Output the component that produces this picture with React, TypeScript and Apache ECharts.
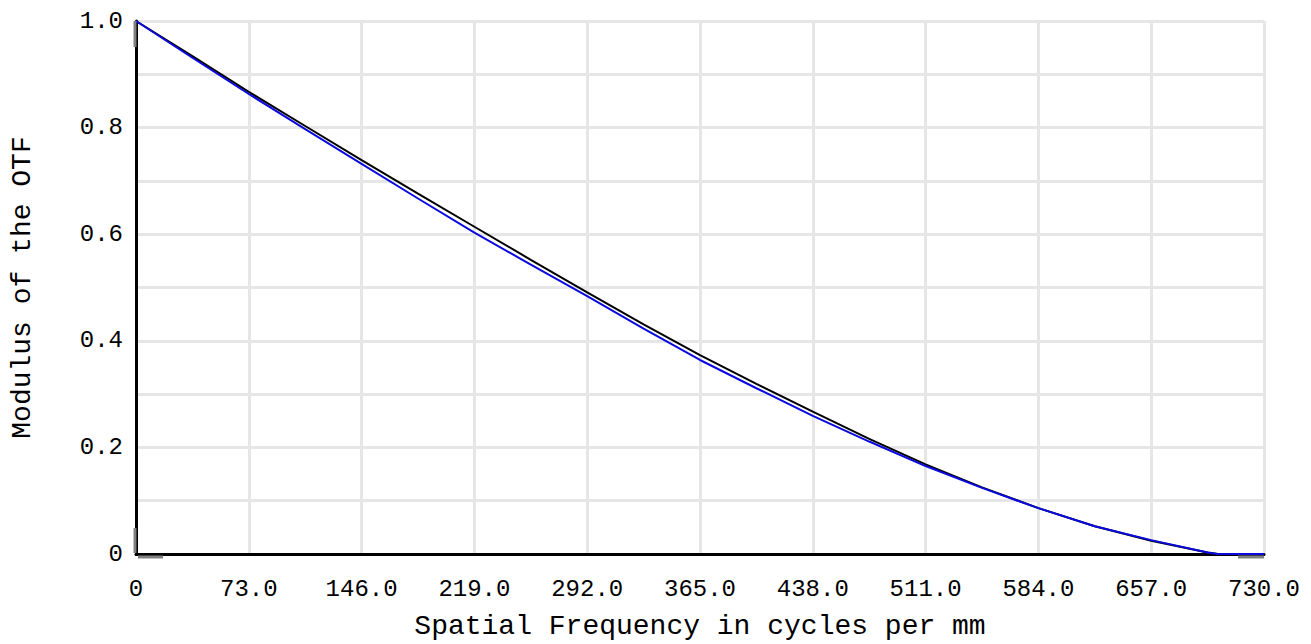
import React, { useEffect, useRef } from "react";
import * as echarts from "echarts";

const freq = [0, 36.5, 73, 109.5, 146, 182.5, 219, 255.5, 292, 328.5, 365, 401.5, 438, 474.5, 511, 547.5, 584, 620.5, 657, 693.5, 700, 730];
const blackMTF = [1.0, 0.934, 0.867, 0.803, 0.739, 0.676, 0.614, 0.552, 0.491, 0.431, 0.373, 0.319, 0.267, 0.216, 0.168, 0.125, 0.086, 0.052, 0.025, 0.003, 0, null];
const blueMTF = [1.0, 0.931, 0.863, 0.797, 0.732, 0.667, 0.603, 0.543, 0.484, 0.423, 0.364, 0.311, 0.259, 0.211, 0.165, 0.124, 0.086, 0.052, 0.026, 0.003, 0, 0];

const xTitle = "Spatial Frequency in cycles per mm";
const yTitle = "Modulus of the OTF";
const FONT = "'Liberation Mono', 'DejaVu Sans Mono', monospace";

export default function App() {
  const ref = useRef<HTMLDivElement>(null);
  useEffect(() => {
    const chart = echarts.init(ref.current!, null, { renderer: "svg" });
    const option: any = {
      animation: false,
      backgroundColor: "#ffffff",
      grid: { left: 136, right: 47, top: 21, bottom: 90, containLabel: false, outerBoundsMode: "none" },
      xAxis: {
        type: "value",
        min: 0,
        max: 730,
        interval: 73,
        offset: 3,
        name: xTitle,
        nameLocation: "middle",
        nameGap: 55,
        nameTextStyle: { fontFamily: FONT, fontSize: 28, color: "#000" },
        axisLine: { show: true, lineStyle: { color: "#000", width: 3 } },
        axisTick: { show: false },
        axisLabel: {
          fontFamily: FONT,
          fontSize: 24,
          color: "#000",
          margin: 20,
          formatter: (v: number) => (v === 0 ? "0" : v.toFixed(1)),
        },
        splitLine: { show: true, lineStyle: { color: "#e6e6e6", width: 3 } },
      },
      yAxis: {
        type: "value",
        min: 0,
        max: 1,
        interval: 0.1,
        name: yTitle,
        nameLocation: "middle",
        nameGap: 100,
        nameTextStyle: { fontFamily: FONT, fontSize: 28, color: "#000" },
        axisLine: { show: true, lineStyle: { color: "#000", width: 3 } },
        axisTick: { show: false },
        axisLabel: {
          fontFamily: FONT,
          fontSize: 24,
          color: "#000",
          margin: 13,
          formatter: (v: number) => {
            const k = Math.round(v * 10);
            if (k % 2 !== 0) return "";
            if (k === 0) return "0";
            return (k / 10).toFixed(1);
          },
        },
        splitLine: { show: true, lineStyle: { color: "#e6e6e6", width: 3 } },
      },
      series: [
        {
          type: "line",
          data: freq.map((f, i) => [f, blackMTF[i]]),
          showSymbol: false,
          lineStyle: { color: "#000000", width: 2 },
          z: 3,
        },
        {
          type: "line",
          data: freq.map((f, i) => [f, blueMTF[i]]),
          showSymbol: false,
          lineStyle: { color: "#0a0ae0", width: 2 },
          z: 4,
        },
      ],
    };
    chart.setOption(option);
    // grey end pieces of the axis lines
    const p = (x: number, y: number) => chart.convertToPixel({ gridIndex: 0 }, [x, y]) as number[];
    const o = p(0, 0);
    const t = p(0, 1);
    const e = p(730, 0);
    const g = "#808080";
    chart.setOption({
      graphic: [
        { type: "rect", shape: { x: o[0] - 2.5, y: t[1], width: 3, height: 26 }, style: { fill: g }, z: 10 },
        { type: "rect", shape: { x: o[0] - 2.5, y: o[1] - 26, width: 3, height: 25 }, style: { fill: g }, z: 10 },
        { type: "rect", shape: { x: o[0] + 2, y: o[1] + 1.5, width: 25, height: 3 }, style: { fill: g }, z: 10 },
        { type: "rect", shape: { x: e[0] - 26, y: o[1] + 1.5, width: 26, height: 3 }, style: { fill: g }, z: 10 },
      ],
    });
    return () => chart.dispose();
  }, []);
  return <div ref={ref} style={{ position: "fixed", left: 0, top: 0, width: 1311, height: 644 }} />;
}
